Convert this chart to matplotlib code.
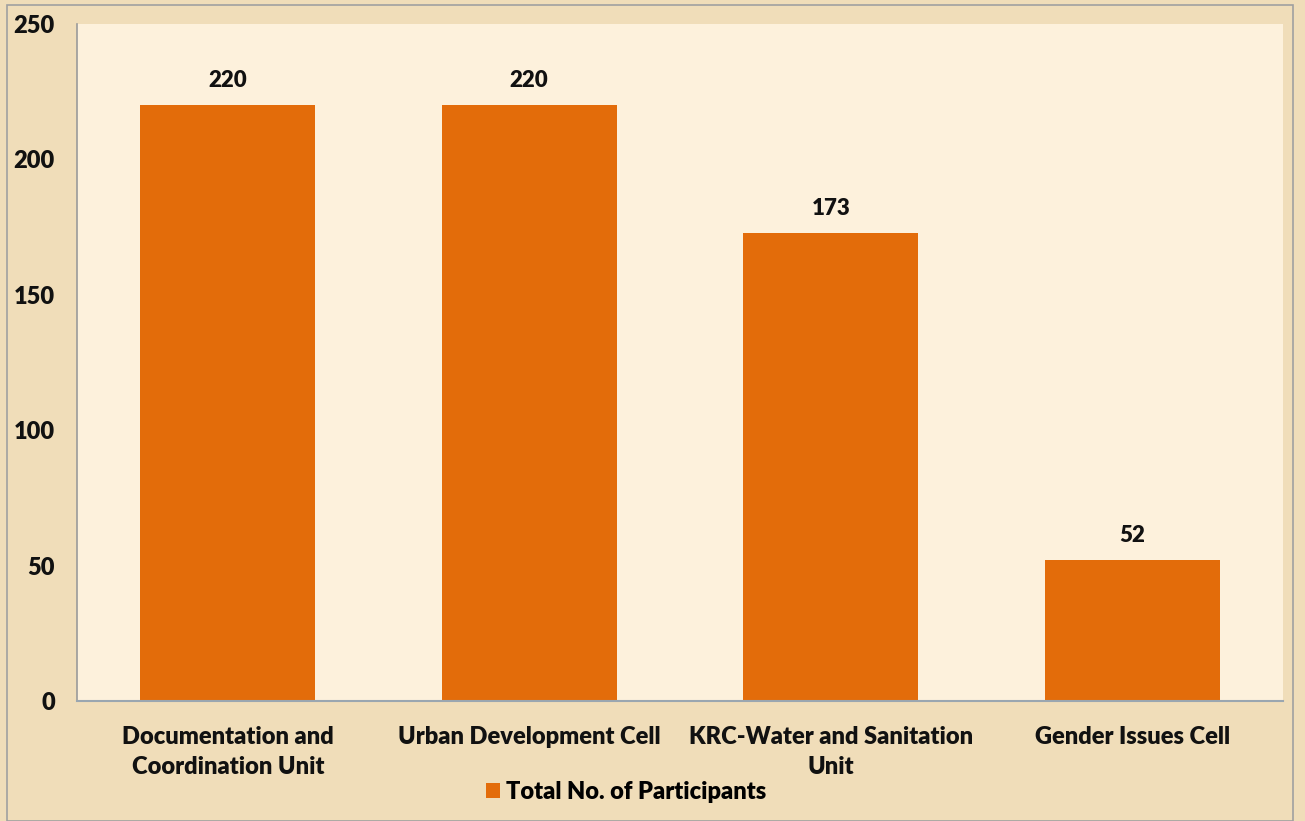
import matplotlib.pyplot as plt
from matplotlib.patches import Rectangle

# ==== DATA ====
categories = ['Documentation and\nCoordination Unit', 'Urban Development Cell',
              'KRC-Water and Sanitation\nUnit', 'Gender Issues Cell']
participants = [220, 220, 173, 52]
series_name = 'Total No. of Participants'
y_ticks = [0, 50, 100, 150, 200, 250]

BAR_COLOR = '#E36C0A'
FIG_BG = '#F0DDB9'
AX_BG = '#FDF1DC'

plt.rcParams['font.family'] = ['Lato', 'DejaVu Sans']
plt.rcParams['font.weight'] = 'bold'

fig = plt.figure(figsize=(13.05, 8.21), dpi=100, facecolor=FIG_BG)
ax = fig.add_axes([77 / 1305, 1 - 701 / 821, (1283 - 77) / 1305, (701 - 24) / 821])
ax.set_facecolor(AX_BG)

x = range(len(categories))
bars = ax.bar(x, participants, width=0.58, color=BAR_COLOR, label=series_name, zorder=2)

for xi, v in zip(x, participants):
    ax.annotate(str(v), (xi, v), xytext=(0, 10), textcoords='offset points',
                ha='center', va='bottom', fontsize=16, fontweight='heavy', color='#111111')

ax.set_xlim(-0.5, len(categories) - 0.5)
ax.set_ylim(0, 250)
ax.set_yticks(y_ticks)
ax.set_xticks(list(x))
ax.set_xticklabels(categories, fontsize=17, fontweight='heavy', color='#111111', linespacing=1.45)
ax.tick_params(axis='y', labelsize=17, length=0, pad=16, labelcolor='#111111')
ax.tick_params(axis='x', length=0, pad=18)
for lbl in ax.get_yticklabels():
    lbl.set_fontweight('heavy')

for side in ['top', 'right']:
    ax.spines[side].set_visible(False)
ax.spines['left'].set_color('#9A9A9A')
ax.spines['bottom'].set_color('#9AA6B0')
ax.spines['left'].set_linewidth(1.2)
ax.spines['bottom'].set_linewidth(1.5)

leg = fig.legend(loc='center', bbox_to_anchor=(626 / 1305, 1 - 792 / 821), frameon=False,
                 prop={'size': 17, 'weight': 'heavy'}, handlelength=0.6, handleheight=0.6,
                 handletextpad=0.25, borderpad=0.1)

# thin grey frame round the figure
fig.patches.append(Rectangle((0.005, 0.0), 0.986, 0.994, transform=fig.transFigure,
                             fill=False, edgecolor='#A0A0A0', linewidth=1.2))

fig.savefig('out.png', dpi=100, facecolor=FIG_BG)
